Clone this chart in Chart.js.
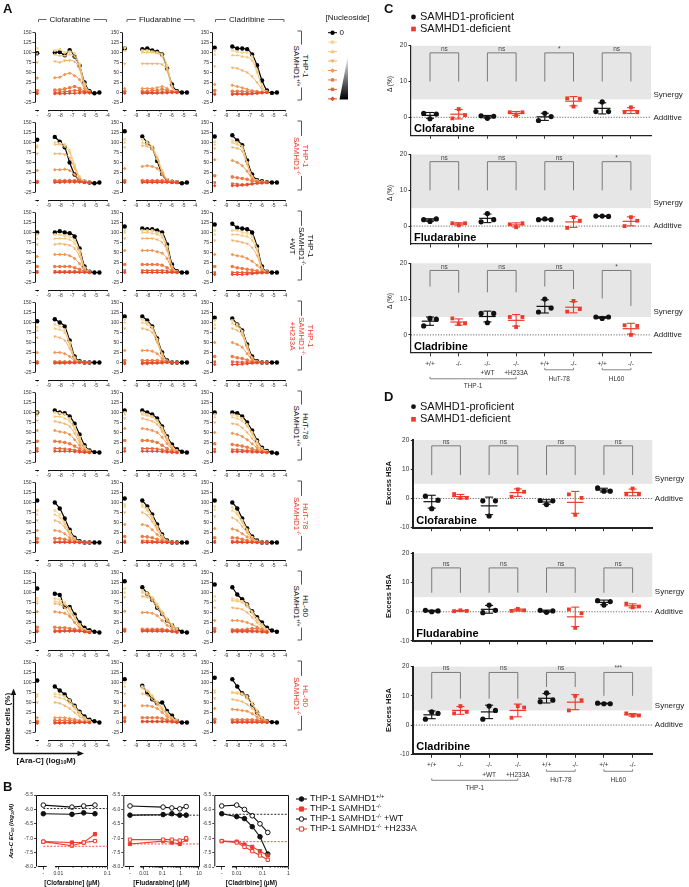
<!DOCTYPE html>
<html><head><meta charset="utf-8">
<script src="https://cdn.jsdelivr.net/npm/chart.js@4.4.1/dist/chart.umd.min.js"></script>
<style>
html,body{margin:0;padding:0;background:#fff}
body{width:689px;height:887px;position:relative;overflow:hidden;font-family:"Liberation Sans",Arial,sans-serif;color:#111}
canvas{position:absolute}
.t{position:absolute;white-space:nowrap;line-height:1}
sup,sub{font-size:65%;line-height:0;position:relative;vertical-align:0}
sup{top:-0.5em} sub{top:0.3em}
</style></head><body>
<script>
// ===================== DATA =====================
// Ara-C doses (log10 M) used in panel A
const ARAC_LOG_M = [-8.48,-8.06,-7.64,-7.22,-6.8,-6.38,-5.96,-5.54,-5.12,-4.7];
const DRUGS = ['Clofarabine','Fludarabine','Cladribine'];
// Panel A: viable cells (%). Each array = 8 series (0 = no nucleoside ... 7 = highest [nucleoside]);
// first value of each series = no Ara-C ("-"), then one value per Ara-C dose.
const THP1_WT_CLO = [[98,100,101,93,106,90,67,25,3,-2,0],[110,105,108,100,102,98,70,22,2],[97,95,92,92,95,90,65,18,2],[75,78,75,80,80,77,58,15,1],[36,37,38,45,48,42,32,10,1],[5,6,7,9,12,15,10,3,0],[0,0,1,2,3,5,4,1,0],[-3,-3,-3,-3,-2,-2,-1,-1,-1]];
const THP1_WT_FLU = [[110,108,110,105,102,95,60,20,3,0,0],[112,105,105,102,100,95,68,16,2],[105,100,100,100,98,90,60,15,2],[72,72,72,72,72,70,55,12,2],[10,10,10,10,12,15,10,3,0],[3,3,3,5,5,8,5,2,0],[0,0,0,0,0,1,1,0,0],[-2,-2,-2,-2,-2,-1,-1,0,0]];
const THP1_WT_CLA = [[112,115,110,110,108,95,68,30,5,-1,0],[105,105,102,100,100,90,55,15,2],[95,93,93,90,88,80,50,15,2],[65,62,60,55,50,40,25,8,2],[20,18,15,12,8,5,3,1,0],[5,3,3,3,2,2,1,0,0],[-3,-3,-3,-3,-3,-3,-2,0,0],[-5,-5,-4,-4,-4,-3,-2,-1,0]];
const THP1_KO_CLO = [[107,114,102,88,50,20,5,2,0,-2,0],[92,100,98,95,80,45,15,4,2],[88,95,95,90,75,40,12,3,1],[72,72,72,70,62,35,10,3,1],[30,32,32,33,30,20,5,2,0],[3,5,5,5,5,5,3,1,0],[1,2,2,3,4,3,2,1,0],[0,0,0,1,1,1,1,0,0]];
const THP1_KO_FLU = [[128,115,99,86,54,21,5,2,1,-2,0],[108,108,100,90,65,30,8,3,2],[100,100,95,85,60,28,7,3,1],[88,92,90,82,58,25,7,2,1],[35,40,42,40,35,20,5,2,1],[5,5,5,5,5,5,3,1,0],[2,3,3,3,3,3,2,1,0],[0,0,0,0,0,0,0,0,0]];
const THP1_KO_CLA = [[115,118,105,93,55,20,6,3,1,0,0],[102,105,100,90,50,15,5,2,1],[95,100,95,88,48,15,5,2,1],[85,88,85,78,45,12,4,2,1],[57,55,50,42,28,8,3,1,0],[17,14,12,10,8,4,2,0,0],[0,-3,-4,-5,-4,-3,-2,-1,0],[-8,-8,-8,-7,-6,-4,-2,-1,0]];
const THP1_KOWT_CLO = [[100,100,103,100,98,90,60,15,2,0,0],[95,95,95,92,90,80,55,12,2],[85,85,85,85,82,72,50,10,2],[70,70,72,70,68,60,40,8,1],[40,45,45,45,42,35,22,5,1],[15,15,15,15,15,12,8,3,0],[3,3,3,3,3,3,2,1,0],[0,0,0,0,0,0,0,0,0]];
const THP1_KOWT_FLU = [[115,110,108,108,105,100,70,20,3,0,0],[105,105,105,105,100,95,65,15,2],[100,100,100,98,95,88,60,15,2],[85,85,85,85,82,75,55,12,2],[55,55,55,55,52,48,35,8,1],[20,20,20,20,20,18,12,4,0],[5,5,5,5,5,5,4,1,0],[0,0,0,0,0,0,0,0,0]];
const THP1_KOWT_CLA = [[120,122,112,110,108,100,65,15,2,0,0],[105,105,105,100,98,90,60,12,2],[95,95,95,92,90,80,55,10,2],[80,80,78,75,72,62,42,8,1],[45,45,42,40,35,28,18,4,0],[15,15,12,10,8,6,4,1,0],[0,0,0,0,0,0,0,0,0],[-5,-5,-5,-5,-4,-3,-2,-1,0]];
const THP1_KOH_CLO = [[103,108,100,90,55,15,3,0,0,0,0],[88,95,90,82,50,12,2,0,0],[80,85,82,75,45,10,2,0,0],[62,65,62,55,35,8,2,0,0],[25,25,25,22,15,4,1,0,0],[2,2,2,2,2,1,0,0,0],[0,0,0,0,0,0,0,0,0],[-2,-2,-2,-2,-1,-1,0,0,0]];
const THP1_KOH_FLU = [[115,115,105,90,60,25,5,0,0,0,0],[108,108,100,88,58,22,4,0,0],[100,100,95,85,55,20,4,0,0],[85,85,82,75,50,18,3,0,0],[30,30,30,28,22,10,2,0,0],[5,5,5,5,5,3,1,0,0],[0,0,0,0,0,0,0,0,0],[-3,-3,-3,-2,-2,-1,0,0,0]];
const THP1_KOH_CLA = [[112,110,95,80,45,15,3,0,0,0,0],[105,105,95,78,42,12,2,0,0],[95,98,90,75,40,10,2,0,0],[85,85,80,68,35,10,2,0,0],[50,50,45,38,22,6,1,0,0],[15,15,12,10,6,2,0,0,0],[2,2,1,1,1,0,0,0,0],[-5,-5,-5,-4,-3,-2,-1,0,0]];
const HUT_WT_CLO = [[100,105,100,98,90,72,45,18,5,1,0],[100,100,98,95,85,65,38,15,4],[92,90,90,85,78,58,32,12,3],[80,78,75,72,65,48,26,10,2],[55,55,52,50,45,32,18,6,1],[28,28,27,25,22,16,9,3,0],[10,10,10,9,8,6,4,1,0],[3,3,3,3,3,2,1,0,0]];
const HUT_WT_FLU = [[105,105,100,95,85,65,40,20,8,2,0],[100,100,95,90,80,62,38,15,5],[95,95,92,88,78,58,35,14,4],[85,85,82,78,70,52,30,12,3],[60,60,58,55,50,38,22,8,2],[30,30,30,28,25,18,10,3,0],[10,10,10,10,9,7,4,1,0],[3,3,3,3,3,2,1,0,0]];
const HUT_WT_CLA = [[100,100,98,90,75,55,30,12,4,0,-2],[95,95,92,85,70,50,28,10,3],[88,88,85,78,65,45,25,9,2],[75,72,70,62,50,35,18,6,1],[50,48,45,40,32,22,12,4,0],[22,20,18,16,13,9,5,2,0],[8,7,7,6,5,4,2,1,0],[2,2,2,2,2,1,1,0,0]];
const HUT_KO_CLO = [[105,100,85,60,32,12,3,0,0,0,0],[80,80,70,50,28,10,2,0,0],[70,70,62,45,25,8,2,0,0],[55,55,50,38,20,6,1,0,0],[30,30,28,22,12,4,1,0,0],[10,10,10,8,5,2,0,0,0],[2,2,2,2,1,1,0,0,0],[0,0,0,0,0,0,0,0,0]];
const HUT_KO_FLU = [[110,105,90,70,45,20,5,0,0,0,0],[95,95,85,65,40,18,4,0,0],[90,90,80,60,38,16,4,0,0],[75,75,68,52,32,14,3,0,0],[45,45,42,32,20,8,2,0,0],[15,15,14,12,8,3,1,0,0],[4,4,4,3,2,1,0,0,0],[0,0,0,0,0,0,0,0,0]];
const HUT_KO_CLA = [[105,100,85,60,35,15,5,0,0,0,0],[90,88,75,55,32,13,4,0,0],[82,80,70,50,30,12,3,0,0],[65,62,55,40,24,10,2,0,0],[35,34,30,22,14,6,1,0,0],[12,12,11,8,5,2,0,0,0],[3,3,3,2,1,1,0,0,0],[0,0,0,0,0,0,0,0,0]];
const HL60_WT_CLO = [[110,97,94,64,64,45,25,12,6,2,0],[85,85,82,75,60,40,20,8,3],[78,78,75,70,55,35,18,7,2],[72,72,70,62,45,25,12,5,2],[52,52,50,48,40,25,12,5,1],[13,13,12,12,10,8,5,2,0],[5,5,5,5,5,5,4,2,0],[2,2,2,3,3,3,3,2,0]];
const HL60_WT_FLU = [[128,113,97,82,62,46,30,18,8,2,0],[110,105,98,88,72,52,35,20,10],[100,100,95,85,68,50,32,18,8],[88,90,88,80,62,45,28,15,6],[53,50,50,48,42,30,18,8,3],[8,8,8,8,8,8,6,3,1],[5,5,5,6,6,6,5,3,1],[3,3,3,3,3,3,3,2,1]];
const HL60_WT_CLA = [[120,113,95,83,70,53,38,25,12,5,2],[90,85,82,78,70,52,35,20,8],[80,80,78,75,65,48,30,18,6],[62,62,60,58,50,38,25,12,5],[30,30,30,28,25,20,14,8,3],[10,7,7,7,8,10,10,6,2],[5,5,5,5,5,5,4,3,1],[2,2,2,2,2,2,2,1,0]];
const HL60_KO_CLO = [[105,90,80,70,55,42,27,15,7,3,0],[70,72,70,65,55,40,25,12,5],[65,65,62,58,48,35,22,10,4],[50,50,48,42,35,25,15,6,2],[12,12,12,12,10,8,5,2,0],[3,5,5,5,5,4,3,1,0],[0,0,0,0,0,0,0,0,0],[-2,-2,-2,-1,-1,-1,0,0,0]];
const HL60_KO_FLU = [[108,92,75,58,48,50,29,17,4,0,0],[100,90,80,68,52,38,25,12,5],[90,85,78,65,50,35,22,10,4],[72,72,68,58,45,32,20,10,4],[42,42,42,40,35,25,15,7,2],[12,12,12,12,12,10,7,3,1],[5,3,3,3,3,3,3,2,0],[2,2,2,2,2,2,2,1,0]];
const HL60_KO_CLA = [[112,108,90,73,65,45,25,10,3,1,0],[80,75,75,72,65,50,30,12,4],[75,75,72,70,60,45,28,10,3],[60,58,55,52,45,35,22,8,2],[35,33,32,30,28,22,14,6,2],[8,7,7,7,7,7,6,4,1],[3,3,3,3,3,3,3,2,0],[0,0,0,0,0,0,0,0,0]];

// Panel B: Ara-C EC50 (log10 M); first value = no nucleoside ("-"), then per nucleoside dose (µM)
const B_CLO_UM = [0.019,0.033,0.056];
const B_CLO_WT = [-6.15,-6.17,-6.12,-6.15];
const B_CLO_KO = [-7.12,-7.15,-7.15,-6.86];
const B_CLO_KOWT = [-5.85,-5.92,-5.88,-5.85];
const B_CLO_KOH = [-7.12,-7.26,-7.15,-7.1];
const B_CLO_REF = [-5.97,-7.28];
const B_FLU_UM = [0.11,0.33,0.89,2.0];
const B_FLU_WT = [-6.2,-6.18,-6.15,-6.2,-6.2];
const B_FLU_KO = [-7.2,-7.1,-7.15,-7.2,-7.05];
const B_FLU_KOWT = [-5.88,-5.92,-5.95,-5.98,-5.9];
const B_FLU_KOH = [-7.05,-7.05,-7.05,-7.08,-7.0];
const B_FLU_REF = [-6.2,-7.2];
const B_CLA_UM = [0.01,0.02,0.04,0.08,0.16];
const B_CLA_WT = [-6.15,-6.25,-6.32,-6.6,-6.95,-7.55];
const B_CLA_KO = [-7.1,-7.12,-7.22,-7.3,-7.45,-7.6];
const B_CLA_KOWT = [-5.88,-5.85,-6.0,-6.22,-6.5,-6.8];
const B_CLA_KOH = [-7.1,-7.15,-7.3,-7.45,-7.6,-7.75];
const B_CLA_REF = [-6.17,-7.12];

// Panels C/D: 8 cell-line groups, 3 replicates each
const CAT_LABELS = [['+/+'],['-/-'],['-/-','+WT'],['-/-','+H233A'],['+/+'],['-/-'],['+/+'],['-/-']];
const GROUPS = [['THP-1',0,3],['HuT-78',4,5],['HL60',6,7]];
const C_CLO = [[1.1,-0.4,0.9],[-0.3,2.3,0.6],[0.4,-0.3,0.3],[1.4,0.5,1.4],[-0.9,1.1,0.2],[5.3,3.0,5.2],[1.6,4.3,1.6],[1.4,2.8,1.4]];
const C_FLU = [[1.8,1.3,2.0],[0.8,0.2,0.8],[1.2,3.5,1.8],[0.5,-0.3,0.8],[1.8,2.0,1.8],[-0.5,2.5,1.5],[2.8,2.8,2.7],[0.0,2.5,1.5]];
const C_CLA = [[2.5,4.6,4.4],[4.6,3.0,3.2],[6.0,3.4,6.0],[5.0,2.2,5.0],[6.4,10.0,7.5],[6.5,9.5,7.2],[5.0,4.6,5.0],[2.7,0.0,2.5]];
const C_SIG = [['ns','ns','*','ns'],['ns','ns','ns','*'],['ns','ns','ns','*']];
const C_BRACKET_TOP = [18,18,18];
const C_BRACKET_LEGS = [[[10,10],[10,10],[10,10],[10,10]],[[10,10],[10,10],[10,10],[10,10]],[[13.5,11.8],[11.9,11.9],[13.5,12.8],[10.2,8.1]]];
const D_CLO = [[0.8,-3.5,-0.6],[1.5,0.2,0.2],[-0.8,-6.0,-0.8],[0.6,3.1,2.3],[-0.7,-2.1,-0.8],[1.4,-5.6,0.2],[3.6,2.5,2.5],[1.4,3.4,1.4]];
const D_FLU = [[0.5,0.0,0.3],[0.2,0.5,0.3],[-0.3,2.3,0.5],[0.3,1.0,0.5],[0.5,-0.2,0.3],[0.8,-5.5,-0.5],[3.8,2.3,3.5],[2.8,1.5,1.8]];
const D_CLA = [[2.0,4.5,4.0],[4.0,6.5,4.5],[2.0,6.5,5.0],[2.5,6.5,6.0],[8.0,11.0,8.5],[5.0,10.0,8.5],[7.5,7.3,7.3],[4.0,3.2,3.3]];
const D_SIG = [['ns','ns','ns','ns'],['ns','ns','ns','ns'],['ns','ns','ns','***']];
const D_BRACKET_TOP = [18,15,18];
const D_BRACKET_LEGS = [[[8,8],[8,8],[8,8],[8,8]],[[6.5,6.5],[6.5,6.5],[6.5,6.5],[6.5,6.5]],[[9,9],[9,9],[13,13],[10,10]]];

// ===================== STYLE =====================
const FONT = '"Liberation Sans", Arial, sans-serif';
const RED = '#EB3B2C';
const A_COLORS = ['#000000','#F7D58F','#F5C57A','#F3B067','#F09552','#ED7B44','#E96238','#E5492E'];
const A_SHAPES = ['circle','rect','triangle','triangle','rectRot','circle','rect','rectRot'];
const A_ROT = [0,0,0,180,0,0,0,0];
const JITTER = [-0.22,0,0.22];

Chart.defaults.font.family = FONT;
Chart.defaults.color = '#333';
Chart.defaults.animation = false;
Chart.defaults.responsive = false;
Chart.defaults.events = [];
Chart.defaults.plugins.legend.display = false;
Chart.defaults.plugins.tooltip.enabled = false;

function mk(left, top, w, h, z) {
  const c = document.createElement('canvas');
  c.width = w; c.height = h;
  c.style.left = left + 'px'; c.style.top = top + 'px';
  c.style.width = w + 'px'; c.style.height = h + 'px';
  if (z !== undefined) c.style.zIndex = z;
  document.body.appendChild(c);
  return c;
}
function txt(html, x, y, css) {
  const d = document.createElement('div');
  d.className = 't'; d.innerHTML = html;
  d.style.cssText += css || '';
  d.style.left = x + 'px'; d.style.top = y + 'px';
  document.body.appendChild(d);
  return d;
}
function drawMarker(ctx, style, x, y, r, fill, stroke, rot) {
  ctx.save(); ctx.translate(x, y); if (rot) ctx.rotate(rot * Math.PI / 180);
  ctx.beginPath();
  if (style === 'circle') ctx.arc(0, 0, r, 0, Math.PI * 2);
  else if (style === 'rect') ctx.rect(-r * 0.9, -r * 0.9, r * 1.8, r * 1.8);
  else if (style === 'rectRot') { ctx.moveTo(0, -r * 1.25); ctx.lineTo(r * 1.25, 0); ctx.lineTo(0, r * 1.25); ctx.lineTo(-r * 1.25, 0); ctx.closePath(); }
  else if (style === 'triangle') { ctx.moveTo(0, -r * 1.2); ctx.lineTo(r * 1.15, r * 0.85); ctx.lineTo(-r * 1.15, r * 0.85); ctx.closePath(); }
  ctx.fillStyle = fill; ctx.fill();
  if (stroke) { ctx.strokeStyle = stroke; ctx.lineWidth = 1; ctx.stroke(); }
  ctx.restore();
}
function line(ctx, pts, color, w, dash) {
  ctx.save(); ctx.strokeStyle = color; ctx.lineWidth = w || 1; ctx.setLineDash(dash || []);
  ctx.beginPath(); ctx.moveTo(pts[0][0], pts[0][1]);
  for (let i = 1; i < pts.length; i++) ctx.lineTo(pts[i][0], pts[i][1]);
  ctx.stroke(); ctx.restore();
}

// ===================== DECORATION LAYER =====================
const deco = mk(0, 0, 689, 887, 0).getContext('2d');

// ===================== PANEL A =====================
const A_AX = [34.5, 122, 212];
const A_T0 = 32.5, A_PITCH = 90;
const CTRL_X = -9.97;
const A_ROWS = [
  {d:[THP1_WT_CLO,THP1_WT_FLU,THP1_WT_CLA], l:['THP-1','SAMHD1<sup>+/+</sup>'], red:false},
  {d:[THP1_KO_CLO,THP1_KO_FLU,THP1_KO_CLA], l:['THP-1','SAMHD1<sup>-/-</sup>'], red:true},
  {d:[THP1_KOWT_CLO,THP1_KOWT_FLU,THP1_KOWT_CLA], l:['THP-1','SAMHD1<sup>-/-</sup>','+WT'], red:false},
  {d:[THP1_KOH_CLO,THP1_KOH_FLU,THP1_KOH_CLA], l:['THP-1','SAMHD1<sup>-/-</sup>','+H233A'], red:true},
  {d:[HUT_WT_CLO,HUT_WT_FLU,HUT_WT_CLA], l:['HuT-78','SAMHD1<sup>+/+</sup>'], red:false},
  {d:[HUT_KO_CLO,HUT_KO_FLU,HUT_KO_CLA], l:['HuT-78','SAMHD1<sup>-/-</sup>'], red:true},
  {d:[HL60_WT_CLO,HL60_WT_FLU,HL60_WT_CLA], l:['HL-60','SAMHD1<sup>+/+</sup>'], red:false},
  {d:[HL60_KO_CLO,HL60_KO_FLU,HL60_KO_CLA], l:['HL-60','SAMHD1<sup>-/-</sup>'], red:true}
];

const axisA = {
  id: 'axisA',
  afterDraw(ch) {
    const {ctx, chartArea: a, scales: {x, y}} = ch;
    const xl = Math.round(a.left) + 0.5, yb = Math.round(a.bottom) + 0.5;
    line(ctx, [[xl, y.getPixelForValue(150)], [xl, y.getPixelForValue(-25)]], '#111', 1);
    line(ctx, [[x.getPixelForValue(-10.13), yb], [x.getPixelForValue(-9.82), yb]], '#111', 1);
    line(ctx, [[x.getPixelForValue(-9), yb], [x.getPixelForValue(-4), yb]], '#111', 1);
  }
};

function chartA(ax, T, sets) {
  const cl = Math.floor(ax) - 16, ct = Math.floor(T) - 4;
  const padL = ax - cl, padT = T - ct;
  const areaW = 6.2 * 11.8, areaH = 77, cw = 98, chh = 92;
  const padR = cw - padL - areaW, axH = chh - padT - areaH;
  const cv = mk(cl, ct, cw, chh, 1);
  const datasets = [];
  for (let s = sets.length - 1; s >= 0; s--) {
    const v = sets[s];
    const pts = [{x: CTRL_X, y: v[0]}, {x: -9.5, y: null}];
    for (let i = 1; i < v.length; i++) pts.push({x: ARAC_LOG_M[i - 1], y: v[i]});
    datasets.push({
      data: pts, showLine: true, spanGaps: false, clip: false,
      borderColor: A_COLORS[s], backgroundColor: A_COLORS[s],
      borderWidth: s === 0 ? 1.2 : 1, pointRadius: s === 0 ? 2.2 : 1.8,
      pointStyle: A_SHAPES[s], rotation: A_ROT[s], pointBorderWidth: 0,
      cubicInterpolationMode: 'monotone'
    });
  }
  new Chart(cv, {
    type: 'scatter',
    data: {datasets},
    options: {
      devicePixelRatio: 1,
      layout: {padding: {left: 0, top: padT, right: padR, bottom: 0}},
      scales: {
        x: {type: 'linear', min: -10.2, max: -4,
          afterFit: s => { s.height = axH; },
          afterBuildTicks: s => { s.ticks = [CTRL_X, -9, -8, -7, -6, -5, -4].map(v => ({value: v})); },
          ticks: {callback: v => (v === CTRL_X ? '-' : String(v)), font: {size: 5}, color: '#333', padding: 1, maxRotation: 0, autoSkip: false},
          grid: {drawOnChartArea: false, drawTicks: true, tickLength: 2, color: '#111', lineWidth: 0.8},
          border: {display: false}},
        y: {type: 'linear', min: -42.5, max: 150,
          afterFit: s => { s.width = padL; },
          afterBuildTicks: s => { s.ticks = [-25, 0, 25, 50, 75, 100, 125, 150].map(v => ({value: v})); },
          ticks: {font: {size: 5}, color: '#333', padding: 1},
          grid: {drawOnChartArea: false, drawTicks: true, tickLength: 2, color: '#111', lineWidth: 0.8},
          border: {display: false}}
      }
    },
    plugins: [axisA]
  });
}

A_ROWS.forEach((row, i) => {
  const T = A_T0 + A_PITCH * i;
  row.d.forEach((sets, j) => chartA(A_AX[j], T, sets));
  const bx = 301.5;
  line(deco, [[bx - 4, T - 1.5], [bx, T - 1.5], [bx, T + 67.5], [bx - 4, T + 67.5]], '#555', 1);
  txt(row.l.join('<br>'), 301, T + 33,
    'font-size:8px;line-height:9px;text-align:center;background:#fff;padding:2px 1px;color:' + (row.red ? RED : '#111') +
    ';transform:translate(-50%,-50%) rotate(90deg);');
});

// column headers
const A_HEAD = [[38, 106, 70], [126.5, 193.5, 160], [215, 283.5, 247]];
A_HEAD.forEach((h, j) => {
  line(deco, [[h[0] + 0.5, 22], [h[0] + 0.5, 19.5], [h[1] + 0.5, 19.5], [h[1] + 0.5, 22]], '#666', 1);
  txt(DRUGS[j], h[2], 19.5, 'font-size:8px;background:#fff;padding:0 3px;transform:translate(-50%,-50%);');
});
txt('A', 3, 2, 'font-size:13px;font-weight:bold;');

// nucleoside legend
txt('[Nucleoside]', 325.5, 14, 'font-size:8px;');
for (let k = 0; k < 8; k++) {
  const y = 32.7 + 9.45 * k;
  line(deco, [[328, y], [337, y]], A_COLORS[k], 1);
  drawMarker(deco, A_SHAPES[k], 332.5, y, k === 0 ? 2.2 : 1.9, A_COLORS[k], null, A_ROT[k]);
}
txt('0', 339.5, 29, 'font-size:8px;');
(function () {
  const g = deco.createLinearGradient(0, 55, 0, 99);
  g.addColorStop(0, '#ffffff'); g.addColorStop(1, '#000000');
  deco.beginPath(); deco.moveTo(348, 55); deco.lineTo(348, 99.5); deco.lineTo(339.5, 99.5); deco.closePath();
  deco.fillStyle = g; deco.fill();
})();

// viable cells axis + Ara-C arrow
line(deco, [[13.5, 753.5], [13.5, 693]], '#111', 1.3);
line(deco, [[13.5, 753.5], [79, 753.5]], '#111', 1.3);
deco.fillStyle = '#111';
deco.beginPath(); deco.moveTo(13.5, 688.5); deco.lineTo(10.8, 695); deco.lineTo(16.2, 695); deco.closePath(); deco.fill();
deco.beginPath(); deco.moveTo(84, 753.5); deco.lineTo(77.5, 750.8); deco.lineTo(77.5, 756.2); deco.closePath(); deco.fill();
txt('Viable cells (%)', 7.5, 722, 'font-size:8px;font-weight:bold;transform:translate(-50%,-50%) rotate(-90deg);');
txt('[Ara-C] (log<sub>10</sub>M)', 16.5, 756.5, 'font-size:8px;font-weight:bold;');

// ===================== PANEL B =====================
const B_T = 795, B_B = 867;
const axisB = {
  id: 'axisB',
  afterDraw(ch) {
    const {ctx, chartArea: a, scales: {x, y}} = ch;
    const c = ch.options.plugins.axisB;
    const L = a.left + 0.5, R = a.right - 0.5, T = a.top + 0.5, B = a.bottom - 0.5;
    line(ctx, [[L, B], [L, T], [R, T], [R, B]], '#111', 1);
    line(ctx, [[x.getPixelForValue(c.segC[0]), B], [x.getPixelForValue(c.segC[1]), B]], '#111', 1);
    line(ctx, [[x.getPixelForValue(c.segM[0]), B], [R, B]], '#111', 1);
    for (let dcd = -4; dcd <= 1; dcd++) for (let m = 2; m <= 9; m++) {
      const v = dcd + Math.log10(m);
      if (v > c.segM[0] && v < x.max) { const px = x.getPixelForValue(v); line(ctx, [[px, B], [px, B + 1.5]], '#111', 0.7); }
    }
    line(ctx, [[x.getPixelForValue(c.ctrl), y.getPixelForValue(c.refs[0])], [R, y.getPixelForValue(c.refs[0])]], '#111', 0.9, [2, 1.5]);
    line(ctx, [[x.getPixelForValue(c.ctrl), y.getPixelForValue(c.refs[1])], [R, y.getPixelForValue(c.refs[1])]], RED, 0.9, [2, 1.5]);
  }
};
const B_STYLES = [
  {c: '#111', f: '#111', s: 'circle'}, {c: RED, f: RED, s: 'rect'},
  {c: '#111', f: '#fff', s: 'circle'}, {c: RED, f: '#fff', s: 'rect'}
];
function chartB(o) {
  const cl = Math.floor(o.L) - 17, ct = B_T - 5;
  const padL = o.L - cl, padT = B_T - ct;
  const cw = Math.ceil(o.R + 5 - cl), chh = 87;
  const padR = cw - (o.R - cl), axH = chh - padT - (B_B - B_T);
  const cv = mk(cl, ct, cw, chh, 1);
  const datasets = o.series.map((sv, k) => {
    const pts = [{x: o.ctrl, y: sv[0]}].concat(o.doses.map((d, i) => ({x: Math.log10(d), y: sv[i + 1]})));
    const st = B_STYLES[k];
    return {data: pts, showLine: true, clip: false, borderColor: st.c, backgroundColor: st.f,
      pointBorderColor: st.c, pointBackgroundColor: st.f, pointStyle: st.s,
      pointRadius: 2.3, pointBorderWidth: 1, borderWidth: 1.1, order: 4 - k};
  });
  new Chart(cv, {
    type: 'scatter', data: {datasets},
    options: {
      devicePixelRatio: 1,
      layout: {padding: {left: 0, top: padT, right: padR, bottom: 0}},
      plugins: {axisB: {segC: o.segC, segM: o.segM, ctrl: o.ctrl, refs: o.refs}},
      scales: {
        x: {type: 'linear', min: o.xmin, max: o.xmax,
          afterFit: s => { s.height = axH; },
          afterBuildTicks: s => { s.ticks = o.ticks.map(t => ({value: t[0]})); },
          ticks: {callback: (v, i) => o.ticks[i][1], font: {size: 5}, color: '#333', padding: 1, maxRotation: 0, autoSkip: false},
          grid: {drawOnChartArea: false, tickLength: 2.5, color: '#111', lineWidth: 0.8},
          border: {display: false}},
        y: {type: 'linear', min: -8, max: -5.5,
          afterFit: s => { s.width = padL; },
          afterBuildTicks: s => { s.ticks = [-8, -7.5, -7, -6.5, -6, -5.5].map(v => ({value: v})); },
          ticks: {callback: v => v.toFixed(1), font: {size: 5}, color: '#333', padding: 1},
          grid: {drawOnChartArea: false, tickLength: 2, color: '#111', lineWidth: 0.8},
          border: {display: false}}
      }
    },
    plugins: [axisB]
  });
}
chartB({L: 36, R: 108, xmin: -2.455, xmax: -0.986, ctrl: -2.306, segC: [-2.42, -2.237], segM: [-2.067],
  ticks: [[-2.306, '-'], [-2, '0.01'], [-1, '0.1']], doses: B_CLO_UM,
  series: [B_CLO_WT, B_CLO_KO, B_CLO_KOWT, B_CLO_KOH], refs: B_CLO_REF});
chartB({L: 123.3, R: 200, xmin: -3.129, xmax: 1.055, ctrl: -2.764, segC: [-3.04, -2.546], segM: [-2.218],
  ticks: [[-2.764, '-'], [-2, '0.01'], [-1, '0.1'], [0, '1'], [1, '10']], doses: B_FLU_UM,
  series: [B_FLU_WT, B_FLU_KO, B_FLU_KOWT, B_FLU_KOH], refs: B_FLU_REF});
chartB({L: 214.3, R: 289, xmin: -2.868, xmax: 0.027, ctrl: -2.58, segC: [-2.80, -2.454], segM: [-2.18],
  ticks: [[-2.58, '-'], [-2, '0.01'], [-1, '0.1'], [0, '1']], doses: B_CLA_UM,
  series: [B_CLA_WT, B_CLA_KO, B_CLA_KOWT, B_CLA_KOH], refs: B_CLA_REF});
txt('B', 3, 780, 'font-size:13px;font-weight:bold;');
txt('<i>Ara-C EC<sub>50</sub> (log<sub>10</sub>M)</i>', 11, 831, 'font-size:6px;font-weight:bold;transform:translate(-50%,-50%) rotate(-90deg);');
[[72, 'Clofarabine'], [161.5, 'Fludarabine'], [251.5, 'Cladribine']].forEach(t =>
  txt('[' + t[1] + '] (µM)', t[0], 883, 'font-size:6.5px;font-weight:bold;transform:translate(-50%,-50%);'));
const B_LEG = ['THP-1 SAMHD1<sup>+/+</sup>', 'THP-1 SAMHD1<sup>-/-</sup>', 'THP-1 SAMHD1<sup>-/-</sup> +WT', 'THP-1 SAMHD1<sup>-/-</sup> +H233A'];
B_LEG.forEach((l, k) => {
  const y = 799 + 10 * k, st = B_STYLES[k];
  line(deco, [[296, y], [307, y]], st.c, 1.1);
  drawMarker(deco, st.s, 301.5, y, 2.3, st.f, st.c);
  txt(l, 310, y - 5, 'font-size:9px;');
});

// ===================== PANELS C & D =====================
const statsPlugin = {
  id: 'stats',
  beforeDraw(ch) {
    const {ctx, chartArea: a, scales: {x, y}} = ch;
    ctx.save(); ctx.fillStyle = '#E6E6E6';
    const yt = y.getPixelForValue(20), yb = y.getPixelForValue(5);
    ctx.fillRect(a.left, yt, a.right - a.left, yb - yt); ctx.restore();
    line(ctx, [[a.left, y.getPixelForValue(0)], [a.right, y.getPixelForValue(0)]], '#444', 0.8, [1.2, 1.5]);
  },
  afterDatasetsDraw(ch) {
    const {ctx, chartArea: a, scales: {x, y}} = ch;
    const c = ch.options.plugins.stats;
    c.vals.forEach((v, i) => {
      const col = i % 2 ? RED : '#111';
      const m = v.reduce((p, q) => p + q, 0) / v.length;
      const sd = Math.sqrt(v.reduce((p, q) => p + (q - m) * (q - m), 0) / (v.length - 1));
      line(ctx, [[x.getPixelForValue(i - 0.29), y.getPixelForValue(m)], [x.getPixelForValue(i + 0.29), y.getPixelForValue(m)]], col, 1.2);
      line(ctx, [[x.getPixelForValue(i), y.getPixelForValue(m - sd)], [x.getPixelForValue(i), y.getPixelForValue(m + sd)]], col, 1.1);
      [m - sd, m + sd].forEach(e => line(ctx, [[x.getPixelForValue(i - 0.14), y.getPixelForValue(e)], [x.getPixelForValue(i + 0.14), y.getPixelForValue(e)]], col, 1.1));
    });
    c.legs.forEach((lg, p) => {
      const xl = x.getPixelForValue(2 * p), xr = x.getPixelForValue(2 * p + 1), yt = y.getPixelForValue(c.top);
      line(ctx, [[xl, y.getPixelForValue(lg[0])], [xl, yt], [xr, yt], [xr, y.getPixelForValue(lg[1])]], '#7a7a7a', 1);
      ctx.save(); ctx.fillStyle = '#444'; ctx.font = '6.5px ' + FONT; ctx.textAlign = 'center'; ctx.textBaseline = 'bottom';
      ctx.fillText(c.sig[p], (xl + xr) / 2, yt - 0.5); ctx.restore();
    });
    ctx.save();
    ctx.fillStyle = '#222'; ctx.font = '8px ' + FONT; ctx.textBaseline = 'bottom';
    ctx.fillText('Synergy', a.right + 2.5, y.getPixelForValue(5) - 1);
    ctx.textBaseline = 'middle';
    ctx.fillText('Additive', a.right + 2.5, y.getPixelForValue(0));
    ctx.fillStyle = '#000'; ctx.font = 'bold 11px ' + FONT; ctx.textBaseline = 'alphabetic';
    ctx.fillText(c.title, a.left + 3, y.getPixelForValue(c.titleY));
    if (c.groups) {
      ctx.font = '6.5px ' + FONT; ctx.fillStyle = '#333'; ctx.textAlign = 'center'; ctx.textBaseline = 'middle';
      GROUPS.forEach(g => {
        const big = g[2] - g[1] > 1;
        const by = a.bottom + (big ? 26 : 17), ty = a.bottom + (big ? 33.5 : 26);
        const x1 = x.getPixelForValue(g[1]), x2 = x.getPixelForValue(g[2]);
        line(ctx, [[x1, by - 2], [x1, by], [x2, by], [x2, by - 2]], '#777', 0.9);
        ctx.fillText(g[0], (x1 + x2) / 2, ty);
      });
    }
    ctx.restore();
  }
};
function chartCD(o) {
  const cl = 396, cw = 689 - cl;
  const ct = Math.floor(o.T) - 7, padT = o.T - ct;
  const chh = Math.ceil(padT + o.H + (o.showX ? 44 : 7));
  const axH = chh - padT - o.H;
  const padL = o.L - cl, padR = cw - (o.R - cl);
  const cv = mk(cl, ct, cw, chh, 1);
  const datasets = o.vals.map((v, i) => ({
    data: v.map((q, j) => ({x: i + JITTER[j], y: q})),
    backgroundColor: i % 2 ? RED : '#111', borderColor: i % 2 ? RED : '#111',
    pointStyle: i % 2 ? 'rect' : 'circle', pointRadius: i % 2 ? 2.7 : 2.6, pointBorderWidth: 0, clip: false
  }));
  new Chart(cv, {
    type: 'scatter', data: {datasets},
    options: {
      devicePixelRatio: 1,
      layout: {padding: {left: 0, top: padT, right: padR, bottom: 0}},
      plugins: {stats: {vals: o.vals, sig: o.sig, top: o.top, legs: o.legs, title: o.title, titleY: o.titleY, groups: o.showX}},
      scales: {
        x: {type: 'linear', min: o.xmin, max: o.xmax,
          afterFit: s => { s.height = axH; },
          afterBuildTicks: s => { s.ticks = [0, 1, 2, 3, 4, 5, 6, 7].map(v => ({value: v})); },
          ticks: {display: o.showX, callback: (v, i) => CAT_LABELS[i], font: {size: 6.5, lineHeight: 1.45}, color: '#333', padding: 3, maxRotation: 0, autoSkip: false},
          grid: {drawOnChartArea: false, tickLength: 3.5, color: '#333', lineWidth: 1},
          border: {display: true, color: '#222', width: o.axW}},
        y: {type: 'linear', min: o.ymin, max: 20,
          afterFit: s => { s.width = padL; },
          afterBuildTicks: s => { s.ticks = o.yticks.map(v => ({value: v})); },
          ticks: {font: {size: 6.5}, color: '#333', padding: 1.5},
          grid: {drawOnChartArea: false, tickLength: 2.5, color: '#222', lineWidth: 1},
          border: {display: true, color: '#222', width: o.axW}}
      }
    },
    plugins: [statsPlugin]
  });
}
const C_VALS = [C_CLO, C_FLU, C_CLA], D_VALS = [D_CLO, D_FLU, D_CLA];
for (let k = 0; k < 3; k++) {
  const T = 45.7 + 108.8 * k;
  chartCD({T, H: 89.5, L: 411, R: 651, xmin: -0.662, xmax: 7.70, ymin: -5, yticks: [0, 10, 20],
    vals: C_VALS[k], sig: C_SIG[k], top: C_BRACKET_TOP[k], legs: C_BRACKET_LEGS[k], title: DRUGS[k], titleY: -4.1,
    showX: k === 2, axW: 1.2});
  txt('Δ (%)', 390, T + 38, 'font-size:6.5px;transform:translate(-50%,-50%) rotate(-90deg);');
}
for (let k = 0; k < 3; k++) {
  const T = 440 + 113.3 * k;
  chartCD({T, H: 87.7, L: 413.3, R: 652.3, xmin: -0.642, xmax: 7.686, ymin: -10, yticks: [-10, 0, 10, 20],
    vals: D_VALS[k], sig: D_SIG[k], top: D_BRACKET_TOP[k], legs: D_BRACKET_LEGS[k], title: DRUGS[k], titleY: -8.6,
    showX: k === 2, axW: 2});
  txt('Excess HSA', 388.5, T + 43, 'font-size:7.5px;font-weight:bold;transform:translate(-50%,-50%) rotate(-90deg);');
}
txt('C', 384, 2, 'font-size:13px;font-weight:bold;');
txt('D', 384, 390, 'font-size:13px;font-weight:bold;');
[[17, 29], [406.7, 419.3]].forEach(p => {
  drawMarker(deco, 'circle', 413.5, p[0], 2.4, '#111');
  drawMarker(deco, 'rect', 413.5, p[1], 2.6, RED);
  txt('SAMHD1-proficient', 420, p[0] - 6, 'font-size:11px;');
  txt('SAMHD1-deficient', 420, p[1] - 6, 'font-size:11px;');
});
</script>
</body></html>
